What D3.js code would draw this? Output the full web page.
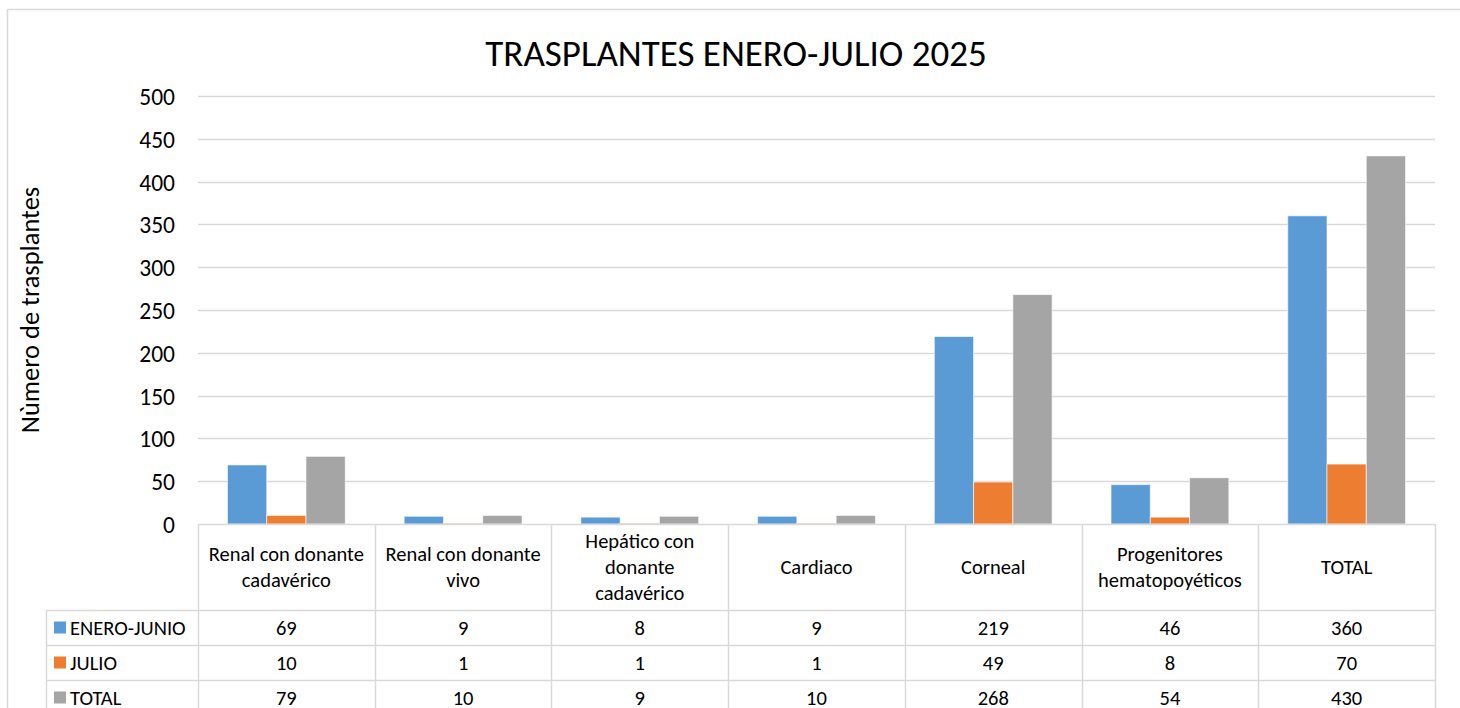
<!DOCTYPE html>
<html>
<head>
<meta charset="utf-8">
<script src="https://cdn.jsdelivr.net/npm/d3@7"></script>
<style>
  body { margin: 0; background: #fff; }
  text { font-family: Carlito, Lato, "Open Sans", sans-serif; fill: #000; }
</style>
</head>
<body>
<script>
var categories = [
  ["Renal con donante", "cadavérico"],
  ["Renal con donante", "vivo"],
  ["Hepático con", "donante", "cadavérico"],
  ["Cardiaco"],
  ["Corneal"],
  ["Progenitores", "hematopoyéticos"],
  ["TOTAL"]
];
var seriesNames = ["ENERO-JUNIO", "JULIO", "TOTAL"];
var eneroJunio = [69, 9, 8, 9, 219, 46, 360];
var julio = [10, 1, 1, 1, 49, 8, 70];
var total = [79, 10, 9, 10, 268, 54, 430];
var yTicks = [0, 50, 100, 150, 200, 250, 300, 350, 400, 450, 500];

var seriesValues = [eneroJunio, julio, total];
var colors = ["#5B9BD5", "#ED7D31", "#A5A5A5"];
var gridColor = "#d9d9d9";

var outerWidth = 1460;
var outerHeight = 708;
var plot = { left: 198, right: 1435, top: 96, bottom: 524 };
var headerBottom = 610;
var rowHeight = 35;
var legendLeft = 46;
var tableFont = 20.5;

var svg = d3.select("body")
  .append("svg")
  .attr("width", outerWidth)
  .attr("height", outerHeight);

// chart border
svg.append("rect")
  .attr("x", 7.5)
  .attr("y", 9.5)
  .attr("width", 1500)
  .attr("height", 800)
  .attr("fill", "#fff")
  .attr("stroke", gridColor)
  .attr("stroke-width", 1.5);

// title
svg.append("text")
  .attr("x", 736)
  .attr("y", 66)
  .attr("text-anchor", "middle")
  .attr("font-size", 37)
  .text("TRASPLANTES ENERO-JULIO 2025");

var yScale = d3.scaleLinear()
  .domain([0, 500])
  .range([plot.bottom, plot.top]);

var xScale = d3.scaleBand()
  .domain(d3.range(categories.length))
  .range([plot.left, plot.right]);

var step = xScale.bandwidth();
var barWidth = step / 4.5;
var xInner = d3.scaleBand()
  .domain(d3.range(seriesNames.length))
  .range([(step - 3 * barWidth) / 2, (step + 3 * barWidth) / 2]);

// gridlines
svg.append("g")
  .selectAll("line")
  .data(yTicks.slice(1))
  .enter()
  .append("line")
  .attr("x1", plot.left)
  .attr("x2", plot.right)
  .attr("y1", (d) => Math.round(yScale(d)) + 0.5)
  .attr("y2", (d) => Math.round(yScale(d)) + 0.5)
  .attr("stroke", gridColor)
  .attr("stroke-width", 1.5);

// y axis
var yAxis = d3.axisLeft(yScale).tickValues(yTicks).tickSize(0).tickPadding(0);
var yAxisG = svg.append("g")
  .attr("transform", "translate(" + (plot.left - 23) + ",0)")
  .call(yAxis);
yAxisG.select(".domain").remove();
yAxisG.selectAll("text")
  .attr("font-size", 23.5)
  .attr("font-family", "Carlito, Lato, 'Open Sans', sans-serif")
  .attr("fill", "#000")
  .attr("dy", "0.36em");

// y label
svg.append("text")
  .attr("transform", "translate(39,310) rotate(-90)")
  .attr("text-anchor", "middle")
  .attr("font-size", 26.5)
  .text("Nùmero de trasplantes");

// bars
var groups = svg.append("g")
  .selectAll("g")
  .data(seriesNames)
  .enter()
  .append("g")
  .attr("fill", (d, i) => colors[i]);

groups.selectAll("rect")
  .data((d, i) => seriesValues[i].map((v, j) => ({ s: i, c: j, v: v })))
  .enter()
  .append("rect")
  .attr("x", (d) => xScale(d.c) + xInner(d.s))
  .attr("y", (d) => yScale(d.v))
  .attr("width", barWidth)
  .attr("height", (d) => plot.bottom - yScale(d.v))
  .attr("stroke", "#fff")
  .attr("stroke-opacity", 0.6)
  .attr("stroke-width", 1);

// data table lines
var tableBottom = headerBottom + rowHeight * 3;
var table = svg.append("g")
  .attr("stroke", gridColor)
  .attr("stroke-width", 1.5);

table.append("line")
  .attr("x1", plot.left).attr("x2", plot.right)
  .attr("y1", plot.bottom + 0.5).attr("y2", plot.bottom + 0.5);

table.selectAll(".hline")
  .data(d3.range(4))
  .enter()
  .append("line")
  .attr("class", "hline")
  .attr("x1", legendLeft)
  .attr("x2", plot.right)
  .attr("y1", (d) => headerBottom + d * rowHeight + 0.5)
  .attr("y2", (d) => headerBottom + d * rowHeight + 0.5);

table.selectAll(".vline")
  .data(d3.range(categories.length + 1))
  .enter()
  .append("line")
  .attr("class", "vline")
  .attr("x1", (d) => Math.round(plot.left + d * step) + 0.5)
  .attr("x2", (d) => Math.round(plot.left + d * step) + 0.5)
  .attr("y1", plot.bottom)
  .attr("y2", tableBottom);

table.append("line")
  .attr("x1", legendLeft + 0.5).attr("x2", legendLeft + 0.5)
  .attr("y1", headerBottom).attr("y2", tableBottom);

// header labels
var headerMid = (plot.bottom + headerBottom) / 2;
var lineH = 26;
categories.forEach(function (lines, i) {
  var t = svg.append("text")
    .attr("text-anchor", "middle")
    .attr("font-size", tableFont);
  lines.forEach(function (ln, k) {
    t.append("tspan")
      .attr("x", xScale(i) + step / 2)
      .attr("y", headerMid + (k - (lines.length - 1) / 2) * lineH)
      .attr("dy", "0.36em")
      .text(ln);
  });
});

// table rows
seriesNames.forEach(function (name, s) {
  var cy = headerBottom + s * rowHeight + rowHeight / 2;
  svg.append("rect")
    .attr("x", 54)
    .attr("y", cy - 6)
    .attr("width", 12)
    .attr("height", 12)
    .attr("fill", colors[s]);
  svg.append("text")
    .attr("x", 70)
    .attr("y", cy)
    .attr("dy", "0.36em")
    .attr("font-size", tableFont)
    .text(name);
  svg.append("g")
    .selectAll("text")
    .data(seriesValues[s])
    .enter()
    .append("text")
    .attr("x", (d, i) => xScale(i) + step / 2)
    .attr("y", cy)
    .attr("dy", "0.36em")
    .attr("text-anchor", "middle")
    .attr("font-size", tableFont)
    .text((d) => d);
});
</script>
</body>
</html>
